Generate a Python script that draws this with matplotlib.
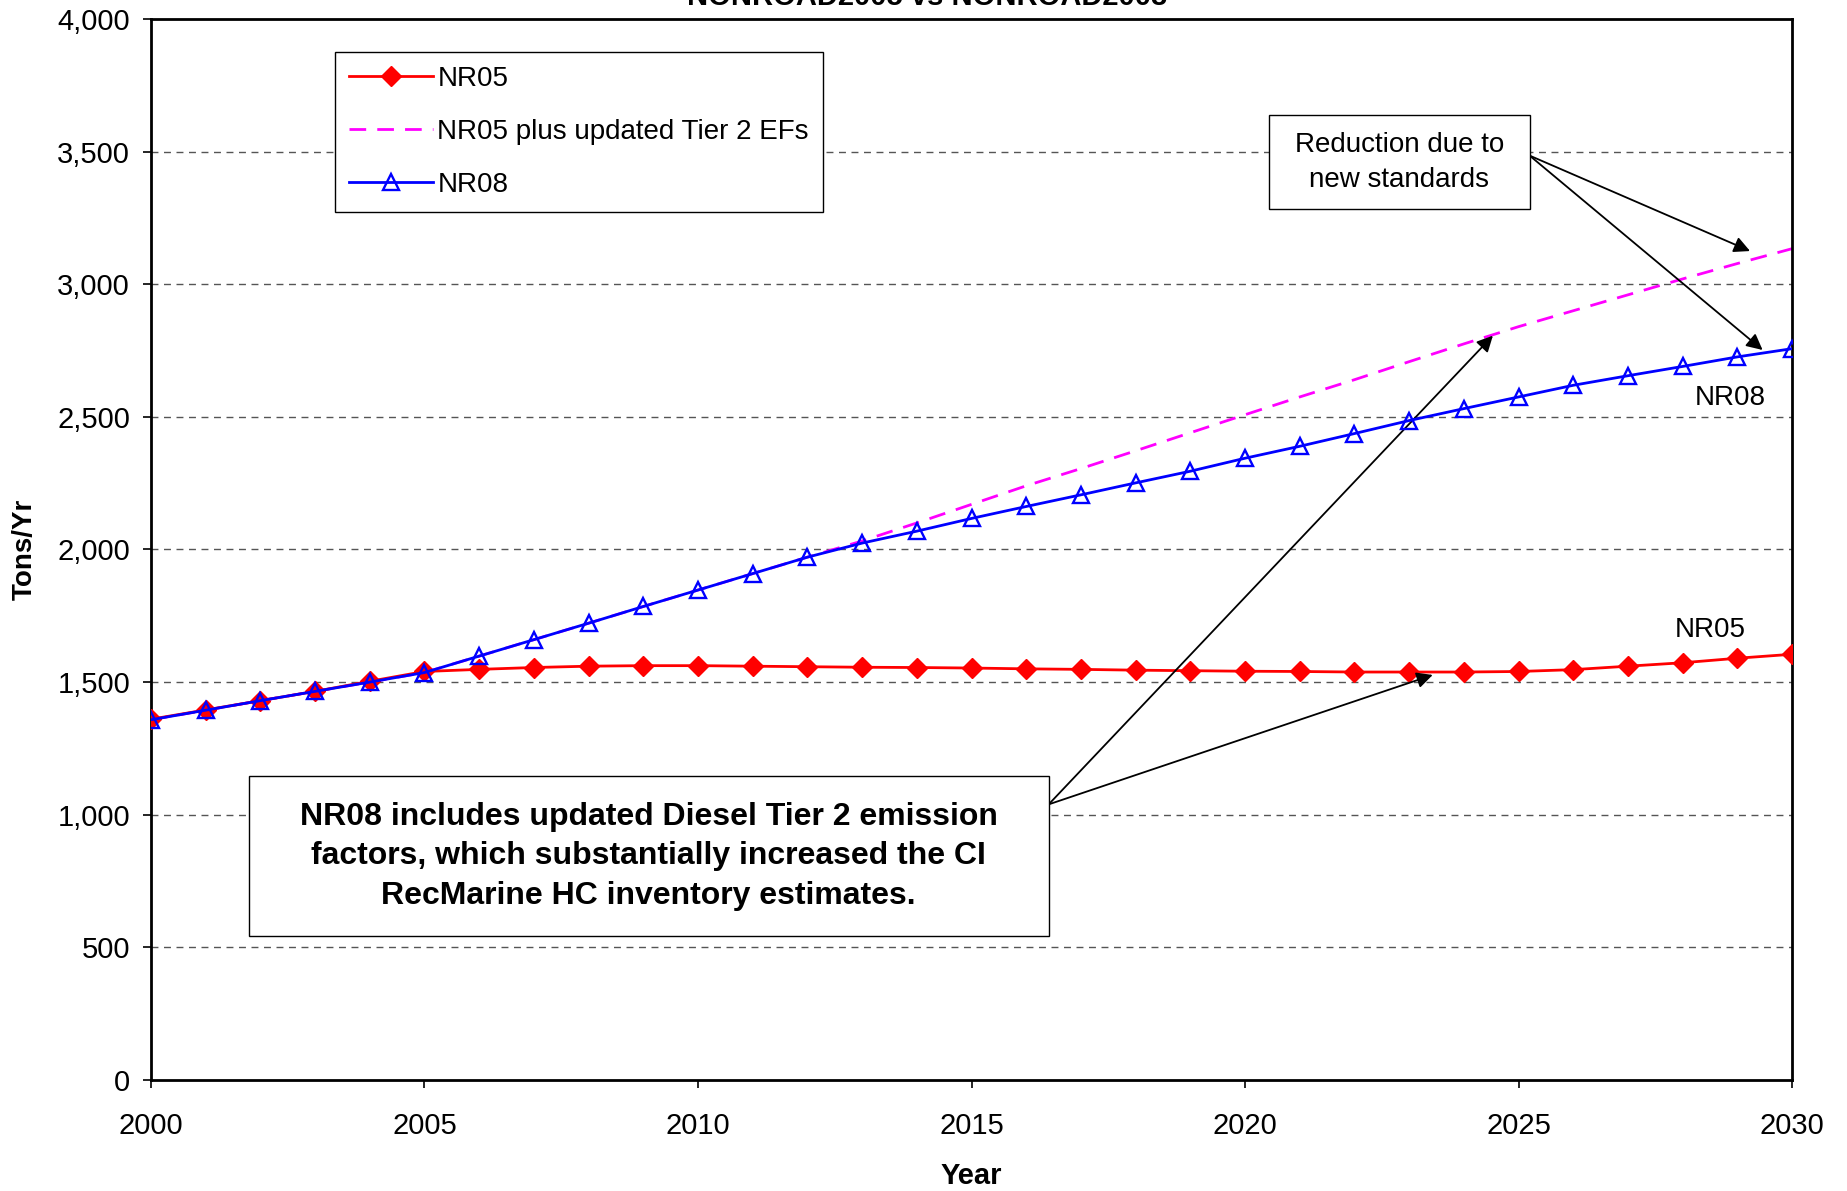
import numpy as np
import matplotlib.pyplot as plt
from matplotlib.patches import Rectangle

plt.rcParams['font.family'] = ['Liberation Sans', 'DejaVu Sans']

years = np.arange(2000, 2031)
nr05 = [1360, 1395, 1430, 1465, 1503, 1540, 1548, 1555, 1560, 1562,
        1562, 1560, 1558, 1556, 1555, 1553, 1550, 1548, 1545, 1543,
        1541, 1540, 1538, 1538, 1538, 1540, 1547, 1560, 1573, 1590, 1605]
nr05_tier2 = [1358, 1394, 1430, 1465, 1500, 1536, 1598, 1660, 1722, 1785,
              1847, 1909, 1971, 2032, 2100, 2170, 2240, 2305, 2372, 2440,
              2508, 2575, 2640, 2708, 2775, 2840, 2900, 2960, 3020, 3078, 3134]
nr08 = [1358, 1394, 1430, 1465, 1500, 1536, 1598, 1660, 1722, 1785,
        1847, 1909, 1971, 2024, 2069, 2117, 2162, 2206, 2251, 2295,
        2344, 2389, 2437, 2486, 2531, 2575, 2619, 2655, 2690, 2726, 2757]

fig = plt.figure(figsize=(18.47, 11.91), dpi=100)
ax = fig.add_axes([0.0817, 0.0932, 0.8886, 0.8909])

ax.plot(years, nr05, color='red', lw=2, marker='D', ms=10, mec='red',
        label='NR05', zorder=3)
ax.plot(years, nr05_tier2, color='magenta', lw=2, ls=(0, (6, 4)),
        label='NR05 plus updated Tier 2 EFs', zorder=2)
ax.plot(years, nr08, color='blue', lw=2, marker='^', ms=12, mfc='none',
        mec='blue', mew=1.7, label='NR08', zorder=4)

ax.set_xlim(2000, 2030)
ax.set_ylim(0, 4000)
ax.set_xticks(range(2000, 2031, 5))
ax.set_yticks(range(0, 4001, 500))
ax.set_yticklabels(['{:,}'.format(v) for v in range(0, 4001, 500)])
ax.tick_params(axis='both', labelsize=21, direction='out', length=6, width=1.2)
ax.tick_params(axis='x', pad=17)
ax.tick_params(axis='y', pad=9)
for v in range(500, 4000, 500):
    ax.axhline(v, color='#555555', lw=1, ls=(0, (5, 4)), zorder=1)
for s in ax.spines.values():
    s.set_linewidth(2)

ax.set_xlabel('Year', fontsize=21, fontweight='bold', labelpad=16)
ax.set_ylabel('Tons/Yr', fontsize=20, fontweight='bold', labelpad=14)
fig.text(0.502, 0.9955, 'NONROAD2005 vs NONROAD2008', ha='center', va='baseline',
         fontsize=21, fontweight='bold')

leg = ax.legend(loc='upper left', bbox_to_anchor=(0.112, 0.969), fontsize=20,
                frameon=True, fancybox=False, edgecolor='black', framealpha=1,
                handlelength=3.05, handletextpad=0.15, borderpad=0.5,
                labelspacing=0.98, borderaxespad=0)
leg.get_frame().set_linewidth(1)

arrow = dict(arrowstyle='-|>', color='black', lw=1.3, mutation_scale=24,
             shrinkA=0, shrinkB=0)
ax.annotate('', xy=(2029.23, 3125), xytext=(2025.2, 3485), arrowprops=arrow)
ax.annotate('', xy=(2029.46, 2752), xytext=(2025.2, 3485), arrowprops=arrow)
ax.annotate('', xy=(2024.53, 2806), xytext=(2016.41, 1039), arrowprops=arrow)
ax.annotate('', xy=(2023.43, 1527), xytext=(2016.41, 1039), arrowprops=arrow)

# text boxes
ax.add_patch(Rectangle((2020.44, 3285), 4.76, 351, fc='white', ec='black',
                       lw=1, zorder=5))
ax.text(2022.82, 3460, 'Reduction due to\nnew standards', ha='center', va='center',
        fontsize=20, linespacing=1.45, zorder=6)
ax.add_patch(Rectangle((2001.79, 542), 14.62, 604, fc='white', ec='black',
                       lw=1, zorder=5))
ax.text(2009.1, 843, 'NR08 includes updated Diesel Tier 2 emission\n'
        'factors, which substantially increased the CI\n'
        'RecMarine HC inventory estimates.',
        ha='center', va='center', fontsize=23, fontweight='bold',
        linespacing=1.42, zorder=6)

ax.text(2028.86, 2570, 'NR08', ha='center', va='center', fontsize=20)
ax.text(2028.5, 1696, 'NR05', ha='center', va='center', fontsize=20)

fig.savefig('out.png', dpi=100)
